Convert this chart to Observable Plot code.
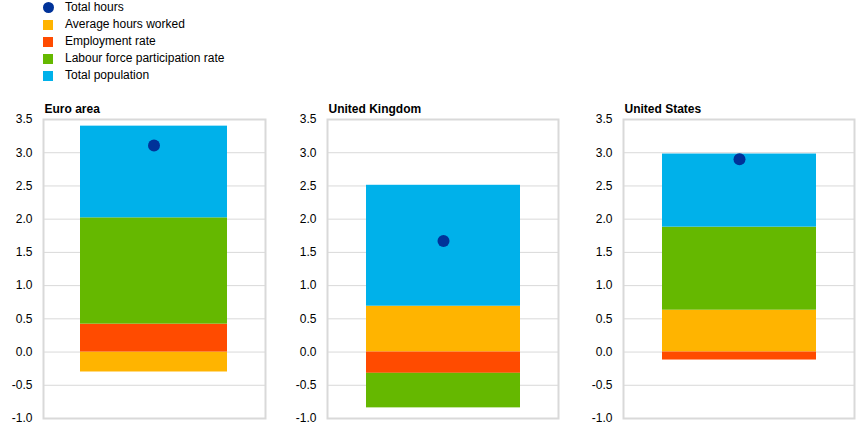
<!DOCTYPE html>
<html><head><meta charset="utf-8">
<script src="https://cdn.jsdelivr.net/npm/d3@7"></script>
<script src="https://cdn.jsdelivr.net/npm/@observablehq/plot@0.6"></script>
<style>
body{margin:0;background:#fff;font-family:"Liberation Sans",Arial,sans-serif;}
#root{position:relative;width:868px;height:427px;overflow:hidden;background:#fff}
.leg{position:absolute;left:0;top:0;font-size:12px;color:#000}
.row{position:absolute;left:43px;height:17px;white-space:nowrap}
.sw{position:absolute;left:0;width:10px;height:10px}
.dotsw{position:absolute;left:0;width:11px;height:11px;border-radius:50%}
.lab{position:absolute;left:22px;line-height:14px}
.panel{position:absolute;top:90px}
</style></head><body><div id="root"></div>
<script>
const regions = ["Euro area", "United Kingdom", "United States"];
const components = ["Average hours worked", "Employment rate", "Labour force participation rate", "Total population"];
const avgHours = [-0.30, 0.69, 0.63];
const employment = [0.42, -0.32, -0.12];
const participation = [1.60, -0.52, 1.25];
const population = [1.38, 1.82, 1.10];
const totalHours = [3.11, 1.67, 2.90];
const yTicks = [-1.0, -0.5, 0.0, 0.5, 1.0, 1.5, 2.0, 2.5, 3.0, 3.5];
const legendLabels = ["Total hours", "Average hours worked", "Employment rate", "Labour force participation rate", "Total population"];
const dotColor = "#003299";
const compColors = ["#FFB400", "#FF4B00", "#65B800", "#00B1EA"];

const series = [avgHours, employment, participation, population];
const root = document.getElementById("root");

// Legend
const leg = document.createElement("div");
leg.className = "leg";
legendLabels.forEach((lab, i) => {
  const row = document.createElement("div");
  row.className = "row";
  row.style.top = (i * 17) + "px";
  const sw = document.createElement("div");
  if (i === 0) { sw.className = "dotsw"; sw.style.background = dotColor; sw.style.top = "1.5px"; sw.style.left = "0px"; }
  else { sw.className = "sw"; sw.style.background = compColors[i - 1]; sw.style.top = "3px"; }
  const t = document.createElement("div");
  t.className = "lab"; t.textContent = lab; t.style.top = "0px";
  row.appendChild(sw); row.appendChild(t);
  leg.appendChild(row);
});
root.appendChild(leg);

const layout = [
  {left: 0, width: 280, ml: 43, mr: 15},
  {left: 285, width: 290, ml: 42, mr: 17},
  {left: 580, width: 288, ml: 43, mr: 14}
];

regions.forEach((region, i) => {
  const data = components.map((c, k) => ({region, component: c, value: series[k][i]}));
  const chart = Plot.plot({
    width: layout[i].width,
    height: 337,
    marginLeft: layout[i].ml,
    marginRight: layout[i].mr,
    marginTop: 29,
    marginBottom: 9,
    style: {fontFamily: "Liberation Sans, Arial, sans-serif", fontSize: "12px", color: "#000", background: "#fff"},
    x: {domain: [region], axis: null, padding: 0.2},
    y: {domain: [-1, 3.5], axis: null},
    color: {domain: components, range: compColors},
    marks: [
      Plot.ruleY(yTicks, {stroke: "#d9d9d9", strokeWidth: 1}),
      Plot.barY(data, {x: "region", y: "value", fill: "component"}),
      Plot.dot([{region, value: totalHours[i]}], {x: "region", y: "value", r: 6, fill: dotColor, stroke: "none"}),
      Plot.frame({stroke: "#d9d9d9", strokeWidth: 2}),
      Plot.axisY({ticks: yTicks, tickFormat: d => d.toFixed(1), tickSize: 0, tickPadding: 11, fontSize: 12, fill: "#000", label: null}),
      Plot.text([region], {frameAnchor: "top-left", dy: -15, dx: 1, textAnchor: "start", fontWeight: "bold", fontSize: 12, fill: "#000"})
    ]
  });
  const wrap = document.createElement("div");
  wrap.className = "panel";
  wrap.style.left = layout[i].left + "px";
  wrap.appendChild(chart);
  root.appendChild(wrap);
});
</script>
</body></html>
